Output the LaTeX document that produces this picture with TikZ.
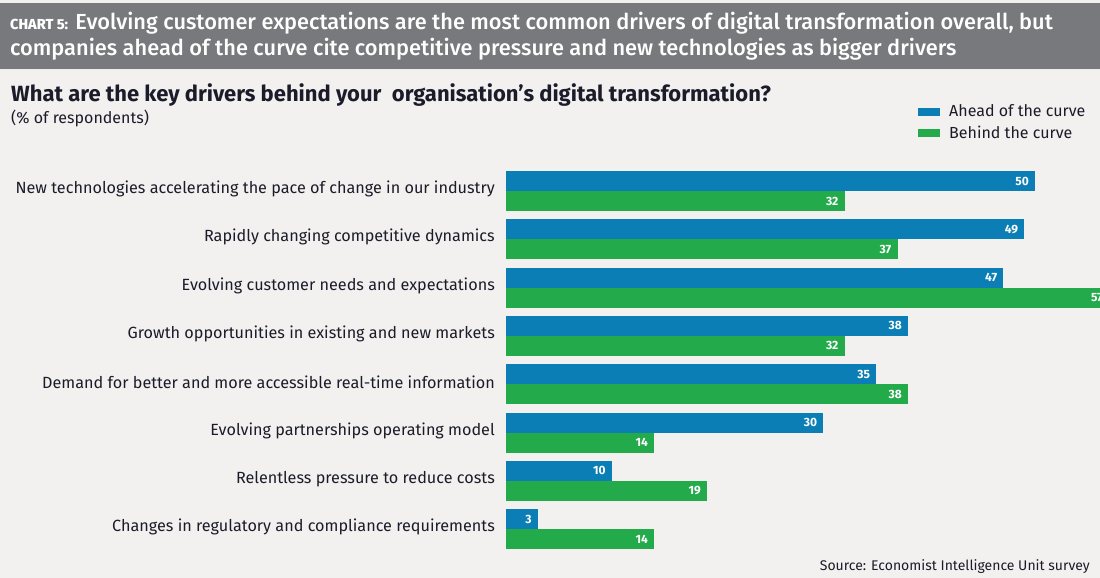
\documentclass[tikz,border=0pt]{standalone}
\usepackage{fontspec}
\setmainfont{Fira Sans}
\newfontfamily\headfont{Fira Sans Medium}
\definecolor{bgpaper}{HTML}{F2F1EF}
\definecolor{bandgrey}{HTML}{78797C}
\definecolor{aheadblue}{HTML}{0A7EB5}
\definecolor{behindgreen}{HTML}{23AA4B}
\definecolor{inkdark}{HTML}{1B1B2A}
\begin{document}
\begin{tikzpicture}[x=1pt,y=1pt,yscale=-1,xscale=1,
  lbl/.style={anchor=east,inner sep=0pt,text=inkdark,font=\fontsize{16.2}{18}\selectfont},
  val/.style={anchor=east,inner sep=0pt,text=white,font=\bfseries\fontsize{12}{14}\selectfont},
  headline/.style={anchor=base west,inner sep=0pt,text=white,font=\headfont\fontsize{21.8}{24}\selectfont},
  ahead/.style={fill=aheadblue},
  behind/.style={fill=behindgreen}]
\useasboundingbox (0,0) rectangle (1100,578);
\clip (0,0) rectangle (1100,578);
%Shape: Rectangle [background]
\fill[bgpaper] (0,0) rectangle (1100,578);
%Shape: Rectangle [header band]
\fill[bandgrey] (0,3) rectangle (1100,69);
\draw[white!85!bandgrey,line width=0.8] (0,69.5) -- (1100,69.5);

%Text Node [header]
\node[headline] (head1) at (10,30)
  {{\bfseries\fontsize{14.5}{14}\selectfont CHART 5:} Evolving customer expectations are the most common drivers of digital transformation overall, but};
\node[headline] (head2) at (10,56)
  {companies ahead of the curve cite competitive pressure and new technologies as bigger drivers};
%Text Node [question]
\node[anchor=base west,inner sep=0pt,text=inkdark,font=\bfseries\fontsize{22}{24}\selectfont] (quest) at (11,101)
  {What are the key drivers behind your \ organisation’s digital transformation?};
\node[anchor=base west,inner sep=0pt,text=inkdark,font=\fontsize{16}{17}\selectfont] (unit) at (11,123) {(\% of respondents)};

%Legend
\fill[ahead] (918,108) rectangle (940,115.5);
\fill[behind] (918,129) rectangle (940,136.5);
\node[anchor=west,inner sep=0pt,text=inkdark,font=\fontsize{16}{18}\selectfont] (legA) at (949,111) {Ahead of the curve};
\node[anchor=west,inner sep=0pt,text=inkdark,font=\fontsize{16}{18}\selectfont] (legB) at (949,132.5) {Behind the curve};

%Bars 1
\fill[ahead] (506,171) rectangle (1035,191);
\fill[behind] (506,191) rectangle (844.6,211);
\node[lbl] (l1) at (495,189) {New technologies accelerating the pace of change in our industry};
\node[val] (a1) at (1029,181) {50};
\node[val] (b1) at (838.6,201) {32};
%Bars 2
\fill[ahead] (506,219.3) rectangle (1024.4,239.3);
\fill[behind] (506,239.3) rectangle (897.5,259.3);
\node[lbl] (l2) at (495,237.3) {Rapidly changing competitive dynamics};
\node[val] (a2) at (1018.4,229.3) {49};
\node[val] (b2) at (891.5,249.3) {37};
%Bars 3
\fill[ahead] (506,267.6) rectangle (1003.3,287.6);
\fill[behind] (506,287.6) rectangle (1109,307.6);
\node[lbl] (l3) at (495,285.6) {Evolving customer needs and expectations};
\node[val] (a3) at (997.3,277.6) {47};
\node[val] (b3) at (1103,297.6) {57};
%Bars 4
\fill[ahead] (506,315.9) rectangle (908,335.9);
\fill[behind] (506,335.9) rectangle (844.6,355.9);
\node[lbl] (l4) at (495,333.9) {Growth opportunities in existing and new markets};
\node[val] (a4) at (902,325.9) {38};
\node[val] (b4) at (838.6,345.9) {32};
%Bars 5
\fill[ahead] (506,364.2) rectangle (876.3,384.2);
\fill[behind] (506,384.2) rectangle (908,404.2);
\node[lbl] (l5) at (495,382.2) {Demand for better and more accessible real-time information};
\node[val] (a5) at (870.3,374.2) {35};
\node[val] (b5) at (902,394.2) {38};
%Bars 6
\fill[ahead] (506,412.5) rectangle (823.4,432.5);
\fill[behind] (506,432.5) rectangle (654.1,452.5);
\node[lbl] (l6) at (495,430.5) {Evolving partnerships operating model};
\node[val] (a6) at (817.4,422.5) {30};
\node[val] (b6) at (648.1,442.5) {14};
%Bars 7
\fill[ahead] (506,460.8) rectangle (611.8,480.8);
\fill[behind] (506,480.8) rectangle (707,500.8);
\node[lbl] (l7) at (495,478.8) {Relentless pressure to reduce costs};
\node[val] (a7) at (605.8,470.8) {10};
\node[val] (b7) at (701,490.8) {19};
%Bars 8
\fill[ahead] (506,509.1) rectangle (537.7,529.1);
\fill[behind] (506,529.1) rectangle (654.1,549.1);
\node[lbl] (l8) at (495,527.1) {Changes in regulatory and compliance requirements};
\node[val] (a8) at (531.7,519.1) {3};
\node[val] (b8) at (648.1,539.1) {14};

%Text Node [source]
\node[anchor=base east,inner sep=0pt,text=inkdark,font=\fontsize{14}{16}\selectfont] (src) at (1090,570) {Source: Economist Intelligence Unit survey};

\end{tikzpicture}
\end{document}
